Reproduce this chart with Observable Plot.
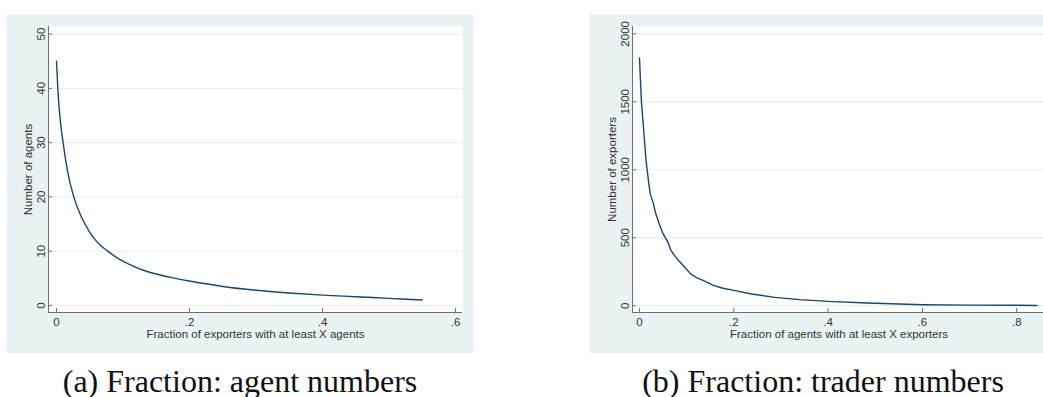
<!DOCTYPE html>
<html><head><meta charset="utf-8">
<script src="https://cdn.jsdelivr.net/npm/d3@7"></script>
<script src="https://cdn.jsdelivr.net/npm/@observablehq/plot@0.6"></script>
<style>
html,body{margin:0;padding:0;background:#fff;overflow:hidden;width:1043px;height:397px;}
.panel{position:absolute;top:14px;width:466px;height:339px;background:#eaf2f3;}
.panel svg{display:block;}
.cap{position:absolute;top:366px;width:466px;line-height:30px;text-align:center;font-family:"Liberation Serif","Times New Roman",serif;font-size:32px;color:#111;white-space:nowrap;}
</style></head><body>
<div id="a" class="panel" style="left:7px"></div>
<div id="b" class="panel" style="left:590px"></div>
<div class="cap" style="left:7px">(a) Fraction: agent numbers</div>
<div class="cap" style="left:590px">(b) Fraction: trader numbers</div>
<script>
// Panel (a): fraction of exporters with at least X agents vs number of agents
const fracA = [0, 0.002, 0.005, 0.010, 0.017, 0.026, 0.035, 0.042, 0.055, 0.066, 0.077, 0.095, 0.116, 0.135, 0.153, 0.175, 0.2, 0.25, 0.3, 0.35, 0.4, 0.45, 0.5, 0.55];
const agentsA = [45, 40, 35, 30, 24.5, 20, 17, 15.2, 12.6, 11.1, 10, 8.5, 7.2, 6.3, 5.7, 5.08, 4.5, 3.5, 2.8, 2.3, 1.9, 1.6, 1.3, 1.0];
const xTicksA = [0, 0.2, 0.4, 0.6];
const yTicksA = [0, 10, 20, 30, 40, 50];
const xLabelA = "Fraction of exporters with at least X agents";
const yLabelA = "Number of agents";

// Panel (b): fraction of agents with at least X exporters vs number of exporters
const fracB = [0, 0.004, 0.009, 0.014, 0.020, 0.023, 0.029, 0.034, 0.041, 0.049, 0.060, 0.066, 0.073, 0.083, 0.094, 0.108, 0.122, 0.136, 0.157, 0.175, 0.2, 0.238, 0.287, 0.34, 0.4, 0.483, 0.55, 0.6, 0.7, 0.8, 0.843];
const exportersB = [1823, 1508, 1287, 1065, 893, 819, 758, 684, 610, 536, 470, 413, 376, 332, 290, 236, 204, 185, 150, 130, 113, 86, 61, 45, 32, 20, 12, 7, 4, 3, 1];
const xTicksB = [0, 0.2, 0.4, 0.6, 0.8];
const yTicksB = [0, 500, 1000, 1500, 2000];
const xLabelB = "Fraction of agents with at least X exporters";
const yLabelB = "Number of exporters";

const fmtX = d => d === 0 ? "0" : String(d).replace(/^0/, "");
const fmtY = d => String(d);

function panel(xs, ys, o) {
  const data = xs.map((x, i) => ({x, y: ys[i]}));
  return Plot.plot({
    width: 466, height: 339,
    marginLeft: o.ml, marginRight: 11, marginTop: 12, marginBottom: 41,
    style: {background: "transparent", fontFamily: "'Liberation Sans', Arial, sans-serif", fontSize: "11.5px", color: "#333", overflow: "visible"},
    x: {domain: o.xDomain},
    y: {domain: o.yDomain},
    marks: [
      Plot.frame({fill: "white", stroke: null}),
      Plot.gridY(o.yTicks, {stroke: "#e4eced", strokeOpacity: 1, strokeWidth: 1}),
      Plot.line(data, {x: "x", y: "y", stroke: "#1a476f", strokeWidth: 1.4, curve: o.curve}),
      Plot.ruleX([o.xDomain[0]], {stroke: "#6f6f6f", strokeWidth: 1}),
      Plot.ruleY([o.yDomain[0]], {stroke: "#6f6f6f", strokeWidth: 1}),
      Plot.axisY(o.yTicks, {tickSize: -4, tickPadding: 8, tickRotate: -90, tickFormat: fmtY, stroke: "#6f6f6f", fill: "#333",
        label: o.yLabel, labelAnchor: "center", labelArrow: "none", labelOffset: 25}),
      Plot.axisX(o.xTicks, {tickSize: -4, tickPadding: 9, tickFormat: fmtX, stroke: "#6f6f6f", fill: "#333",
        label: o.xLabel, labelAnchor: "center", labelArrow: "none", labelOffset: 25})
    ]
  });
}

document.getElementById("a").append(panel(fracA, agentsA, {
  ml: 41, xDomain: [-0.012, 0.6105], yDomain: [-1.3, 51.4],
  xTicks: xTicksA, yTicks: yTicksA, xLabel: xLabelA, yLabel: yLabelA, curve: "monotone-x"
}));
document.getElementById("b").append(panel(fracB, exportersB, {
  ml: 42, xDomain: [-0.0148, 0.861], yDomain: [-50, 2054],
  xTicks: xTicksB, yTicks: yTicksB, xLabel: xLabelB, yLabel: yLabelB, curve: "linear"
}));
</script>
</body></html>
